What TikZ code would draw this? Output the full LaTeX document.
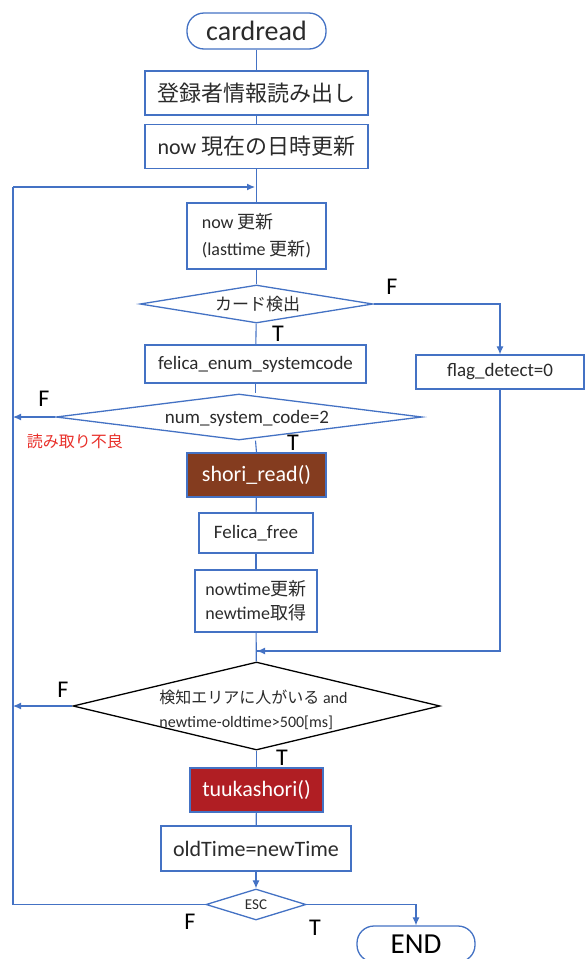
\documentclass[tikz,border=0pt]{standalone}
\usepackage{fontspec}
\setmainfont{Carlito}
\newfontfamily\jp{Noto Sans CJK JP}
\usetikzlibrary{arrows.meta,shapes.geometric}
\definecolor{flowblue}{HTML}{4472C4}
\definecolor{txtgray}{HTML}{2B2B2B}
\definecolor{readbrown}{HTML}{843C1F}
\definecolor{passred}{HTML}{B01E23}
\definecolor{warnred}{HTML}{E8302A}
\newcommand{\fs}[2]{\fontsize{#1}{#2}\selectfont}
\tikzset{
  box/.style={draw=flowblue, line width=1.3pt, fill=white, inner sep=0pt, text=txtgray},
  term/.style={box, rounded corners=17pt},
  cond/.style={diamond, draw=flowblue, line width=1.3pt, fill=white, inner sep=0pt},
  flow/.style={draw=flowblue, line width=1.1pt},
  arr/.style={flow, -{Latex[length=8pt,width=7pt]}},
  tf/.style={font=\fs{24}{28}, text=black, inner sep=0pt},
}
\begin{document}
\begin{tikzpicture}[x=1pt,y=-1pt]
\useasboundingbox (0,0) rectangle (585,959);

% main column
\node[term, minimum width=139, minimum height=36, font=\fs{28}{32}] (start) at (256.5,31) {cardread};
\node[box, minimum width=223, minimum height=44, font=\fs{22}{26}] (b1) at (256.5,93) {\jp 登録者情報読み出し};
\node[box, minimum width=223, minimum height=44, font=\fs{22}{26}] (b2) at (256.5,146.5) {now {\jp 現在の日時更新}};
\coordinate (loopin) at (256,187);
\node[box, minimum width=139, minimum height=66, font=\fs{18}{27}, align=left] (b3) at (256.5,236) {now {\jp 更新}\\(lasttime {\jp 更新})};
\node[cond, minimum width=233, minimum height=38, label={[font=\fs{17}{20}, text=txtgray, xshift=1pt]center:{\jp カード検出}}] (d1) at (256.5,304) {};
\node[box, minimum width=221, minimum height=38, font=\fs{19}{22}] (enum) at (255.5,364) {felica\_enum\_systemcode};
\node[box, minimum width=168, minimum height=34, font=\fs{19}{22}] (flag) at (500,372) {flag\_detect=0};
\node[cond, minimum width=366, minimum height=46, label={[font=\fs{19}{22}, text=txtgray, xshift=8pt, yshift=-1pt]center:num\_system\_code=2}] (d2) at (239,417) {};
\node[box, fill=readbrown, text=white, minimum width=139, minimum height=44, font=\fs{22}{26}] (read) at (256.5,475) {shori\_read()};
\node[box, minimum width=114, minimum height=40, font=\fs{19}{22}] (free) at (256,533) {Felica\_free};
\node[box, minimum width=122, minimum height=62, font=\fs{18}{24}, align=left] (nowt) at (256,601) {nowtime{\jp 更新}\\newtime{\jp 取得}};
\coordinate (merge) at (256,651);
\node[cond, draw=black, minimum width=367, minimum height=88, label={[font=\fs{16}{24}, text=txtgray, align=left, xshift=-3pt, yshift=-4pt]center:{{\jp 検知エリアに人がいる} and\\newtime-oldtime>500[ms]}}] (d3) at (256.5,706) {};
\node[box, fill=passred, text=white, minimum width=133, minimum height=44, font=\fs{22}{26}] (pass) at (256.5,790) {tuukashori()};
\node[box, minimum width=190, minimum height=45, font=\fs{22}{26}] (old) at (256,848.5) {oldTime=newTime};
\node[cond, minimum width=100, minimum height=31, label={[font=\fs{15}{17}, text=txtgray]center:ESC}] (esc) at (256,904.5) {};
\node[term, minimum width=118, minimum height=36, font=\fs{29}{32}, text=black] (end) at (416,944) {END};

% branch labels
\node[tf] (f1) at (392,287) {F};
\node[tf] (t1) at (278,334) {T};
\node[tf] (f2) at (44,399) {F};
\node[tf] (t2) at (293,443) {T};
\node[font=\fs{16}{18}, text=warnred, inner sep=0pt] (bad) at (75,441) {\jp 読み取り不良};
\node[tf] (f3) at (63,690) {F};
\node[tf] (t3) at (282,758) {T};
\node[tf] (f4) at (190,922) {F};
\node[tf] (t4) at (315,928) {T};

% left rail coordinates
\coordinate (railtop) at (13,187);
\coordinate (rail2) at (13,417);
\coordinate (rail3) at (13,706);
\coordinate (railbot) at (13,904.5);

% connectors
\draw[flow] (start) -- (b1);
\draw[flow] (b1) -- (b2);
\draw[flow] (b2) -- (b3);
\draw[flow] (b3) -- (d1);
\draw[flow] (d1) -- (enum);
\draw[arr] (d1.east) -| (flag.north);
\draw[flow] (enum.south) -- (enum.south |- d2.north);
\draw[flow] (enum.south |- d2.south) -- (read.north);
\draw[arr] (d2.west) -- (rail2);
\draw[flow] (read) -- (free);
\draw[flow] (free) -- (nowt);
\draw[flow] (nowt) -- (d3);
\draw[flow] (flag.south) |- (merge);
\draw[arr] (flag.south |- merge) -- ([xshift=1pt]merge);
\draw[arr] (d3.west) -- (rail3);
\draw[flow] (d3) -- (pass);
\draw[flow] (pass) -- (old);
\draw[arr] (old) -- (esc);
\draw[arr] (esc.east) -| (end.north);
\draw[flow] (esc.west) -- (railbot) -- (railtop);
\draw[arr] (railtop) -- ([xshift=-1pt]loopin);
\end{tikzpicture}
\end{document}
